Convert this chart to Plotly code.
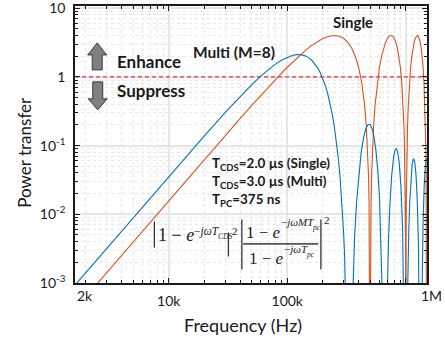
import plotly.graph_objects as go

# ---------------- data ----------------
freq_single = [1500, 2000, 5000, 10000, 20000, 30000, 40000, 50000, 60000, 70000,
               80000, 90000, 100000, 115000, 130000, 145000, 160000, 180000, 200000, 225000,
               250000, 275000, 300000, 325000, 350000, 375000, 400000, 425000, 450000, 465000,
               475000, 485000, 490000, 495000, 497000, 499000, 500000,
               501000, 503000, 505000, 510000, 515000, 525000, 535000, 550000, 575000, 600000,
               625000, 650000, 675000, 700000, 725000, 750000, 775000, 800000, 825000, 850000,
               875000, 900000, 925000, 950000, 965000, 975000, 985000, 990000, 995000, 997000,
               999000, 1000000,
               1001000, 1003000, 1005000, 1010000, 1015000, 1025000, 1035000, 1050000, 1075000, 1100000,
               1125000, 1150000, 1175000, 1200000, 1225000, 1250000, 1275000, 1300000, 1325000, 1350000,
               1375000, 1400000, 1425000, 1450000, 1465000, 1475000, 1485000, 1490000, 1495000, 1497000,
               1499000, 1500000]
pt_single = [3.55e-4, 6.32e-4, 3.95e-3, 0.0158, 0.0628, 0.140, 0.247, 0.382, 0.542, 0.725,
             0.928, 1.148, 1.382, 1.749, 2.126, 2.497, 2.852, 3.275, 3.618, 3.902,
             4.0, 3.902, 3.618, 3.176, 2.618, 2.0, 1.382, 0.824, 0.382, 0.190,
             0.0979, 0.0354, 0.0158, 3.95e-3, 1.42e-3, 1.58e-4, 1e-6,
             1.58e-4, 1.42e-3, 3.95e-3, 0.0158, 0.0354, 0.0979, 0.190, 0.382, 0.824, 1.382,
             2.0, 2.618, 3.176, 3.618, 3.902, 4.0, 3.902, 3.618, 3.176, 2.618,
             2.0, 1.382, 0.824, 0.382, 0.190, 0.0979, 0.0354, 0.0158, 3.95e-3, 1.42e-3,
             1.58e-4, 1e-6,
             1.58e-4, 1.42e-3, 3.95e-3, 0.0158, 0.0354, 0.0979, 0.190, 0.382, 0.824, 1.382,
             2.0, 2.618, 3.176, 3.618, 3.902, 4.0, 3.902, 3.618, 3.176, 2.618,
             2.0, 1.382, 0.824, 0.382, 0.190, 0.0979, 0.0354, 0.0158, 3.95e-3, 1.42e-3,
             1.58e-4, 1e-6]

freq_multi = [1500, 2000, 5000, 10000, 20000, 30000, 40000, 50000, 60000, 70000,
              80000, 90000, 100000, 110000, 120000, 130000, 140000, 150000, 160000, 170000,
              180000, 190000, 200000, 210000, 220000, 230000, 240000, 250000, 260000, 270000,
              280000, 290000, 300000, 305000, 310000, 315000, 320000, 333333, 340000, 350000,
              360000, 370000, 385000, 400000, 420000, 440000, 460000, 480000, 500000, 520000,
              540000, 560000, 580000, 600000, 620000, 635000, 645000, 660000, 666667, 675000,
              690000, 700000, 715000, 735000, 760000, 790000, 815000, 835000, 855000, 880000,
              910000, 940000, 960000, 970000, 985000, 1000000, 1010000, 1030000, 1040000, 1060000,
              1080000, 1100000, 1130000, 1160000, 1190000, 1220000, 1250000, 1280000, 1300000, 1320000,
              1333333, 1345000, 1360000, 1370000, 1380000, 1400000, 1430000, 1460000, 1500000, 1520000]
pt_multi = [7.99e-4, 1.42e-3, 8.87e-3, 0.0353, 0.1388, 0.3033, 0.5172, 0.7661, 1.0329, 1.2999,
            1.5496, 1.7667, 1.938, 2.054, 2.110, 2.105, 2.041, 1.925, 1.766, 1.576,
            1.367, 1.151, 0.938, 0.739, 0.561, 0.408, 0.283, 0.185, 0.1135, 0.0638,
            0.0321, 0.01385, 4.76e-3, 2.45e-3, 1.11e-3, 4.15e-4, 1.14e-4, 1e-6, 6.4e-6, 2.33e-4,
            1.41e-3, 4.62e-3, 0.0156, 0.0362, 0.0783, 0.1294, 0.1756, 0.2027, 0.2025, 0.1760,
            0.1323, 0.0846, 0.0443, 0.0177, 4.61e-3, 1.01e-3, 2.23e-4, 2e-6, 1e-6, 4.6e-6,
            2.68e-4, 1.06e-3, 4.21e-3, 0.0140, 0.0362, 0.0689, 0.0876, 0.0901, 0.0804, 0.0565,
            0.0257, 6.44e-3, 1.40e-3, 4.57e-4, 2.9e-5, 1e-6, 5.7e-6, 4.31e-4, 1.30e-3, 5.73e-3,
            0.0150, 0.0289, 0.0519, 0.0647, 0.0583, 0.0375, 0.0158, 3.38e-3, 5.7e-4, 1.5e-5,
            1e-6, 1.3e-5, 2.79e-4, 9.2e-4, 2.24e-3, 7.93e-3, 0.0254, 0.0486, 0.0650, 0.0611]

ref_level = [1, 1]
ref_freq = [1620, 1510000]

x_tickvals = [10000, 100000, 1000000]
x_ticktext = ["10k", "100k", ""]
y_tickvals = [0.001, 0.01, 0.1, 1, 10]
y_ticktext = ["10<sup>-3</sup>", "10<sup>-2</sup>", "10<sup>-1</sup>", "1", "10"]

# ---------------- layout geometry (pixels) ----------------
W, H = 445, 341
L, R, T, B = 75, 426.7, 6, 283.5


def px(x):
    return (x - L) / (R - L)


def py(y):
    return (B - y) / (B - T)


BLUE = "#0072BD"
ORANGE = "#D95319"

fig = go.Figure()
fig.add_trace(go.Scatter(x=ref_freq, y=ref_level, mode="lines",
                         line=dict(color="#f03030", width=1.4, dash="4px,3px"),
                         hoverinfo="skip", showlegend=False))
fig.add_trace(go.Scatter(x=freq_single, y=pt_single, mode="lines",
                         line=dict(color=ORANGE, width=1.1), showlegend=False, name="Single"))
fig.add_trace(go.Scatter(x=freq_multi, y=pt_multi, mode="lines",
                         line=dict(color=BLUE, width=1.1), showlegend=False, name="Multi"))

axis_common = dict(
    showline=True, linecolor="#1a1a1a", linewidth=1.5, mirror="ticks",
    ticks="inside", ticklen=5, tickwidth=1, tickcolor="#1a1a1a",
    gridcolor="#e6e6e6", gridwidth=1.5, automargin=False, ticklabeloverflow="allow",
    tickfont=dict(family="Lato", size=14, color="#1a1a1a"),
    zeroline=False,
)
minor_common = dict(dtick="D1", ticks="inside", ticklen=3, tickcolor="#1a1a1a",
                    showgrid=True, gridcolor="#e8e8e8", griddash="dot", gridwidth=1)

fig.update_xaxes(type="log", range=[3.2095, 6.179], tickmode="array",
                 tickvals=x_tickvals, ticktext=x_ticktext, ticklabelstandoff=4,
                 minor=minor_common, **axis_common)
fig.update_yaxes(type="log", range=[-3, 1.032], tickmode="array",
                 tickvals=y_tickvals, ticktext=y_ticktext, ticklabelstandoff=5,
                 minor=minor_common, **axis_common)

ann = []


def text(x, y, s, size=14, family="Lato", bold=False, anchor="left", color="#1a1a1a", angle=0):
    if bold:
        s = "<b>" + s + "</b>"
    ann.append(dict(x=px(x), y=py(y), xref="paper", yref="paper", text=s,
                    showarrow=False, xanchor=anchor, yanchor="middle", borderpad=0,
                    textangle=angle, font=dict(family=family, size=size, color=color)))


# axis titles and extra tick labels
text(25, 152, "Power transfer", size=17, anchor="center", angle=-90)
text(243, 326, "Frequency (Hz)", size=18, anchor="center")
text(85, 296, "2k", size=14, anchor="center")
text(431, 296, "1M", size=14, anchor="center")

# labels
text(116, 62, "Enhance", size=17, bold=True)
text(116, 91, "Suppress", size=17, bold=True)
text(192, 52, "Multi (M=8)", size=15.5, bold=True)
text(332, 22, "Single", size=15, bold=True)
text(211, 164, "T<sub>CDS</sub>=2.0 µs (Single)", size=13.5, bold=True)
text(211, 182, "T<sub>CDS</sub>=3.0 µs (Multi)", size=13.5, bold=True)
text(211, 200, "T<sub>PC</sub>=375 ns", size=13.5, bold=True)

# formula
SERIF = "Liberation Serif"
FC = "#222222"
text(157, 235, "1 − <i>e</i>", size=18, family=SERIF, color=FC)
text(193, 232, "−<i>jωT</i>", size=11.5, family=SERIF, color=FC)
text(217, 236.5, "<i>CDS</i>", size=7.5, family=SERIF, color=FC)
text(231, 231, "2", size=11, family=SERIF, color=FC)
text(245, 233, "1 − <i>e</i>", size=17, family=SERIF, color=FC)
text(280, 222.5, "−<i>jωMT</i>", size=11, family=SERIF, color=FC)
text(310.5, 227.5, "<i>pc</i>", size=7.5, family=SERIF, color=FC)
text(248, 259, "1 − <i>e</i>", size=17, family=SERIF, color=FC)
text(283, 249.5, "−<i>jωT</i>", size=11, family=SERIF, color=FC)
text(305, 254.5, "<i>pc</i>", size=7.5, family=SERIF, color=FC)
text(323, 220, "2", size=11, family=SERIF, color=FC)

shapes = []


def seg(x0, y0, x1, y1, color="#333333", width=1.3):
    shapes.append(dict(type="line", xref="paper", yref="paper",
                       x0=px(x0), y0=py(y0), x1=px(x1), y1=py(y1),
                       line=dict(color=color, width=width)))


seg(154.3, 222, 154.3, 248)
seg(228.3, 233, 228.3, 257)
seg(241.7, 220, 241.7, 270)
seg(320.7, 220, 320.7, 270)
seg(243, 244.3, 318, 244.3, color="#555555", width=1.6)


def poly(points):
    d = "M " + " L ".join(f"{px(a):.5f},{py(b):.5f}" for a, b in points) + " Z"
    shapes.append(dict(type="path", xref="paper", yref="paper", path=d,
                       fillcolor="#808080", line=dict(color="#3a3a3a", width=1)))


# up arrow
poly([(97.2, 43), (106.7, 55), (102.2, 55), (102.2, 70), (92.2, 70), (92.2, 55), (87.7, 55)])
# down arrow
poly([(92.7, 82), (102.7, 82), (102.7, 99), (107.2, 99), (97.7, 110), (88.2, 99), (92.7, 99)])

fig.update_layout(
    width=W, height=H,
    margin=dict(l=L, r=W - R, t=T, b=H - B),
    paper_bgcolor="white", plot_bgcolor="white",
    font=dict(family="Lato", color="#1a1a1a"),
    annotations=ann, shapes=shapes, showlegend=False,
)

fig.write_html("out.html")
